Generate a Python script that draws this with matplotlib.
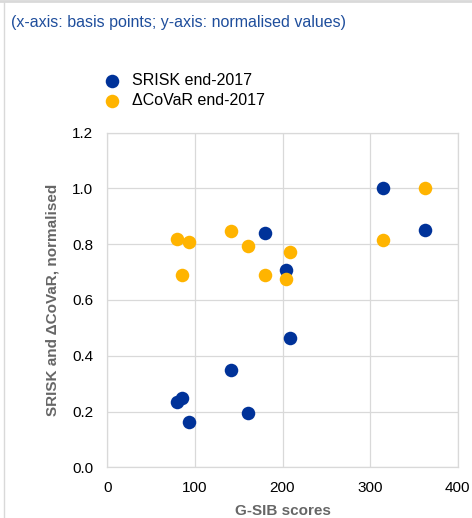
import matplotlib
matplotlib.use("Agg")
import matplotlib.pyplot as plt
from matplotlib.lines import Line2D

plt.rcParams['font.family'] = ['Liberation Sans', 'DejaVu Sans']

gsib_scores = [80, 85.6, 93.3, 141.6, 160.6, 179.7, 204, 208.6, 314.4, 362.7]
srisk = [0.235, 0.25, 0.164, 0.349, 0.194, 0.842, 0.707, 0.464, 1.0, 0.851]
covar_x = [80, 84.9, 92.9, 141.6, 160.6, 179.7, 204, 208.6, 314.4, 362.7]
covar = [0.82, 0.691, 0.807, 0.849, 0.794, 0.691, 0.676, 0.773, 0.814, 1.0]

series_labels = ["SRISK end-2017", "\u0394CoVaR end-2017"]
title = "(x-axis: basis points; y-axis: normalised values)"
xlabel = "G-SIB scores"
ylabel = "SRISK and \u0394CoVaR, normalised"
xticks = [0, 100, 200, 300, 400]
yticks = [0.0, 0.2, 0.4, 0.6, 0.8, 1.0, 1.2]

blue = "#003299"
orange = "#FFB400"
grid_c = "#d9d9d9"
W, H = 472, 518

fig = plt.figure(figsize=(W / 100, H / 100), dpi=100)
ax = fig.add_axes([107.3 / W, 1 - 467.3 / H, (457.7 - 107.3) / W, (467.3 - 132.7) / H])

ax.scatter(gsib_scores, srisk, s=95, color=blue, linewidths=0, zorder=3, label=series_labels[0])
ax.scatter(covar_x, covar, s=95, color=orange, linewidths=0, zorder=4, label=series_labels[1])

ax.set_xlim(0, 400)
ax.set_ylim(0, 1.2)
ax.set_xticks(xticks)
ax.set_yticks(yticks)
ax.set_xticklabels([str(v) for v in xticks])
ax.set_yticklabels([f"{v:.1f}" for v in yticks])
ax.tick_params(length=0, labelsize=11, colors="#000000")
ax.tick_params(axis='y', pad=10)
ax.tick_params(axis='x', pad=10)
ax.grid(True, color=grid_c, linewidth=0.9, zorder=0)
ax.set_axisbelow(True)
for sp in ax.spines.values():
    sp.set_color(grid_c)
    sp.set_linewidth(0.9)

ax.set_xlabel(xlabel, fontsize=11, fontweight='bold', color="#666666", labelpad=6)
ax.set_ylabel(ylabel, fontsize=11, fontweight='bold', color="#666666", labelpad=9)

fig.text(11 / W, 1 - 22 / H, title, fontsize=11.5, color="#1f4e9c", va='center', ha='left')

leg = ax.legend(loc='upper left', bbox_to_anchor=(100 / W, 1 - 73 / H), bbox_transform=fig.transFigure,
                frameon=False, fontsize=11.5, handlelength=1.5, handletextpad=0.5,
                borderpad=0, borderaxespad=0, labelspacing=0.3, scatterpoints=1)

fig.add_artist(Line2D([0, 1], [1 - 1 / H, 1 - 1 / H], transform=fig.transFigure, color="#d9d9d9", linewidth=2))
fig.add_artist(Line2D([3.5 / W, 3.5 / W], [0, 1 - 2 / H], transform=fig.transFigure, color="#d9d9d9", linewidth=1))

fig.savefig("out.png", dpi=100)
